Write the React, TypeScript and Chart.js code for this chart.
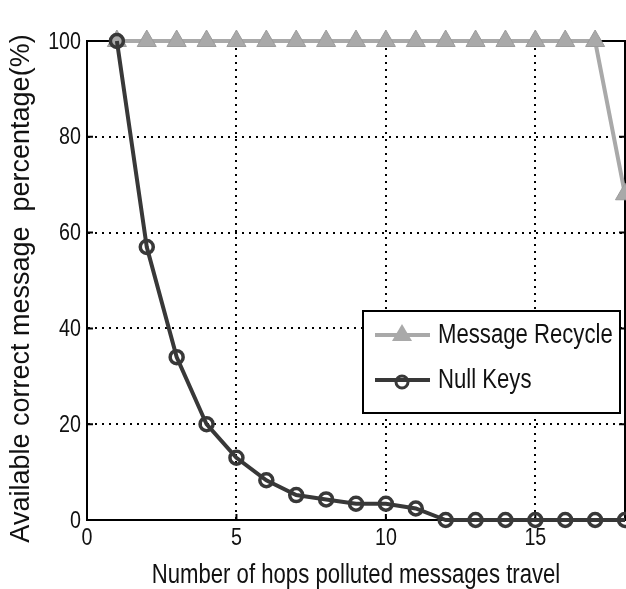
import React, { useEffect, useRef } from "react";
import { Chart, registerables } from "chart.js";

Chart.register(...registerables);

const hops = [1, 2, 3, 4, 5, 6, 7, 8, 9, 10, 11, 12, 13, 14, 15, 16, 17, 18];
const messageRecycle = [100, 100, 100, 100, 100, 100, 100, 100, 100, 100, 100, 100, 100, 100, 100, 100, 100, 68];
const nullKeys = [100, 57, 34, 20, 13, 8.3, 5.2, 4.3, 3.4, 3.4, 2.4, 0, 0, 0, 0, 0, 0, 0];
const xTicks = [0, 5, 10, 15];
const yTicks = [0, 20, 40, 60, 80, 100];
const seriesNames = ["Message Recycle", "Null Keys"];
const xTitle = "Number of hops polluted messages travel";
const yTitle = "Available correct message  percentage(%)";

const FONT = "'Liberation Sans', Arial, sans-serif";
const NARROW = 0.82;
const GREY = "#a9a9a9";
const DARK = "#383838";
const TEXT = "#111";

function narrowText(ctx: any, text: string, x: number, y: number, size: number, align: string, baseline: string) {
  ctx.save();
  ctx.font = `${size}px ${FONT}`;
  ctx.fillStyle = TEXT;
  ctx.textAlign = align;
  ctx.textBaseline = baseline;
  ctx.translate(x, y);
  ctx.scale(NARROW, 1);
  ctx.fillText(text, 0, 0);
  ctx.restore();
}

const frameAndLegend = {
  id: "frameAndLegend",
  beforeDatasetsDraw(chart: any) {
    const { ctx, chartArea: a } = chart;
    ctx.save();
    ctx.strokeStyle = "#000";
    ctx.lineWidth = 2;
    ctx.strokeRect(a.left, a.top, a.right - a.left, a.bottom - a.top);
    const xs = chart.scales.x;
    const ys = chart.scales.y;
    ctx.beginPath();
    xTicks.forEach((v) => {
      const px = xs.getPixelForValue(v);
      ctx.moveTo(px, a.bottom);
      ctx.lineTo(px, a.bottom - 6);
      ctx.moveTo(px, a.top);
      ctx.lineTo(px, a.top + 6);
    });
    yTicks.forEach((v) => {
      const py = ys.getPixelForValue(v);
      ctx.moveTo(a.left, py);
      ctx.lineTo(a.left + 6, py);
      ctx.moveTo(a.right, py);
      ctx.lineTo(a.right - 6, py);
    });
    ctx.stroke();
    ctx.restore();
  },
  afterDraw(chart: any) {
    const { ctx, chartArea: a } = chart;
    const xs = chart.scales.x;
    const ys = chart.scales.y;
    // tick labels
    xTicks.forEach((v) => {
      narrowText(ctx, String(v), xs.getPixelForValue(v), a.bottom + 6, 24, "center", "top");
    });
    yTicks.forEach((v) => {
      narrowText(ctx, String(v), a.left - 6, ys.getPixelForValue(v) + 1, 24, "right", "middle");
    });
    // x title
    narrowText(ctx, xTitle, (a.left + a.right) / 2, a.bottom + 56, 27, "center", "middle");
    // y title (rotated)
    ctx.save();
    ctx.font = `27px ${FONT}`;
    ctx.fillStyle = TEXT;
    ctx.textAlign = "center";
    ctx.textBaseline = "middle";
    ctx.translate(22, (a.top + a.bottom) / 2 + 8);
    ctx.rotate(-Math.PI / 2);
    ctx.fillText(yTitle, 0, 0);
    ctx.restore();

    // legend
    const bx = a.right - 262;
    const by = a.top + 270;
    const bw = 257;
    const bh = 102;
    ctx.save();
    ctx.fillStyle = "#fff";
    ctx.fillRect(bx, by, bw, bh);
    ctx.strokeStyle = "#000";
    ctx.lineWidth = 2;
    ctx.strokeRect(bx, by, bw, bh);
    const rows = [
      { name: seriesNames[0], color: GREY, y: by + 24, marker: "tri" },
      { name: seriesNames[1], color: DARK, y: by + 69, marker: "circ" },
    ];
    rows.forEach((r) => {
      ctx.strokeStyle = r.color;
      ctx.lineWidth = 4;
      ctx.beginPath();
      ctx.moveTo(bx + 12, r.y);
      ctx.lineTo(bx + 67, r.y);
      ctx.stroke();
      const cx = bx + 39;
      if (r.marker === "tri") {
        ctx.fillStyle = GREY;
        ctx.beginPath();
        ctx.moveTo(cx, r.y - 11);
        ctx.lineTo(cx + 10, r.y + 6);
        ctx.lineTo(cx - 10, r.y + 6);
        ctx.closePath();
        ctx.fill();
      } else {
        ctx.lineWidth = 3;
        ctx.beginPath();
        ctx.arc(cx, r.y + 2, 6, 0, Math.PI * 2);
        ctx.stroke();
      }
      narrowText(ctx, r.name, bx + 75, r.y + 1, 27, "left", "middle");
    });
    ctx.restore();
  },
};

export default function App() {
  const ref = useRef<HTMLCanvasElement | null>(null);
  useEffect(() => {
    if (!ref.current) return;
    const chart = new Chart(ref.current, {
      type: "line",
      data: {
        labels: hops,
        datasets: [
          {
            label: seriesNames[0],
            data: hops.map((h, i) => ({ x: h, y: messageRecycle[i] })),
            borderColor: GREY,
            backgroundColor: GREY,
            borderWidth: 4,
            pointStyle: "triangle",
            pointRadius: 11,
            pointBorderWidth: 1,
            pointBorderColor: "#9c9c9c",
            pointBackgroundColor: GREY,
            tension: 0,
            order: 2,
            clip: false as any,
          },
          {
            label: seriesNames[1],
            data: hops.map((h, i) => ({ x: h, y: nullKeys[i] })),
            borderColor: DARK,
            backgroundColor: "rgba(0,0,0,0)",
            borderWidth: 4,
            pointStyle: "circle",
            pointRadius: 6.5,
            pointBorderWidth: 3.5,
            pointBorderColor: DARK,
            pointBackgroundColor: "rgba(0,0,0,0)",
            tension: 0,
            order: 1,
            clip: false as any,
          },
        ],
      },
      options: {
        animation: false,
        responsive: false,
        events: [],
        layout: { autoPadding: false, padding: { top: 41, right: 1, left: 0, bottom: 0 } },
        plugins: { legend: { display: false }, tooltip: { enabled: false } },
        scales: {
          x: {
            type: "linear",
            min: 0,
            max: 18,
            afterBuildTicks: (s: any) => {
              s.ticks = xTicks.map((v) => ({ value: v }));
            },
            afterFit: (s: any) => {
              s.height = 69;
              s.paddingLeft = 0;
              s.paddingRight = 0;
            },
            grid: {
              color: (c: any) => (c.tick && c.tick.value === 0 ? "rgba(0,0,0,0)" : "#000"),
              lineWidth: 2,
              drawTicks: false,
            },
            border: { display: true, color: "#000", width: 2, dash: [2, 5] },
            ticks: { display: false },
            title: { display: false, text: xTitle },
          },
          y: {
            type: "linear",
            min: 0,
            max: 100,
            afterBuildTicks: (s: any) => {
              s.ticks = yTicks.map((v) => ({ value: v }));
            },
            afterFit: (s: any) => {
              s.width = 87;
              s.paddingTop = 0;
              s.paddingBottom = 0;
            },
            grid: {
              color: (c: any) =>
                c.tick && (c.tick.value === 0 || c.tick.value === 100) ? "rgba(0,0,0,0)" : "#000",
              lineWidth: 2,
              drawTicks: false,
            },
            border: { display: true, color: "#000", width: 2, dash: [2, 5] },
            ticks: { display: false },
            title: { display: false, text: yTitle },
          },
        },
      } as any,
      plugins: [frameAndLegend],
    });
    return () => chart.destroy();
  }, []);
  return (
    <div style={{ position: "absolute", left: 0, top: 0, width: 626, height: 589, background: "#fff" }}>
      <canvas ref={ref} width={626} height={589} style={{ width: 626, height: 589 }} />
    </div>
  );
}
